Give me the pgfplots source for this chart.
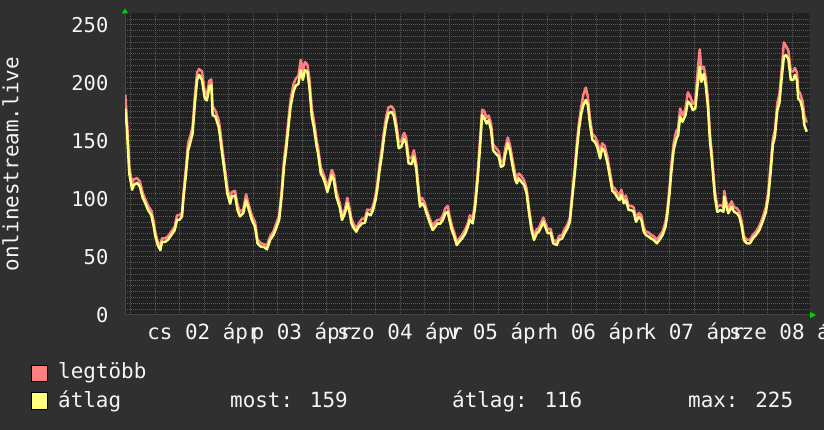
\documentclass[border=0pt]{standalone}
\usepackage{fontspec}
\setmainfont{DejaVu Sans Mono}
\usepackage{pgfplots}
\usepackage{pgfplotstable}
\pgfplotsset{compat=1.18}
\usetikzlibrary{arrows.meta}
\definecolor{bgc}{RGB}{48,48,48}
\definecolor{canvasc}{RGB}{33,33,33}
\definecolor{minorgrid}{RGB}{88,88,88}
\definecolor{majorgrid}{RGB}{140,66,66}
\definecolor{maxc}{RGB}{255,128,128}
\definecolor{avgc}{RGB}{255,255,128}
\definecolor{txtc}{RGB}{245,245,245}
\definecolor{arrowc}{RGB}{0,210,0}
\definecolor{axisc}{RGB}{70,70,70}
% h = hours since 2 April 00:00; avg = átlag; max = legtöbb
\pgfplotstableread{
h avg max
-7.3 178 190
-6.9 162 170
-6.6 142 150
-6.3 122 128
-5.6 108 113
-5.2 112 117
-4.4 114 118
-3.7 110.6 115
-3.0 101 105
-2.4 96.5 100
-1.7 90.5 94
-0.9 86 90
-0.3 76 80
0.1 67.5 71
0.7 60 63
1.3 56 60
1.7 63 66
2.5 63 66
3.2 65 68
4.0 69 72
4.8 73 76
5.4 82 86
6.0 82 86
6.6 85 88
7.0 102 106
7.6 122 128
8.1 142 148
8.6 148 154
9.2 156.6 162
9.7 179.6 186
10.3 202.6 209
10.8 207 212
11.5 202.6 210
12.2 186.8 192
12.7 185 190
13.3 196.8 202
13.8 198 203
14.1 172.4 180
14.8 171 176
15.6 162 168
15.9 155 161
16.4 140 146
17.1 122 127
17.7 105 110
18.4 96 100
18.8 102 106
19.6 103 107
20.2 90.5 95
20.8 85 89
21.6 87.7 91
22.3 99 104
22.8 93 97
23.7 82 86
24.5 76 80
25.1 61.8 65
25.9 59 62
26.7 58.6 61
27.4 56.6 60
28.2 64.7 68
29.0 69 72
29.8 76 80
30.4 82 86
31.0 102 107
31.6 128 134
32.1 142 148
32.6 159.5 166
33.2 179.6 186
33.9 192.5 199
34.5 198 204
35.1 199 206
35.7 211 220
36.2 202.6 210
36.7 211 218
37.3 210 216
37.8 196.8 204
38.4 171 178
38.9 162 168
39.6 145 150
39.9 140 145
40.6 122 127
41.1 119 123
41.7 113 117
42.2 106 110
42.8 113.5 118
43.3 120.7 125
43.8 116 121
44.4 102 107
45.2 93.4 97
45.8 82 86
46.5 87.7 91
47.1 96.3 101
47.7 87.7 91
48.1 79 83
48.7 74.7 78
49.3 71.8 75
49.9 76 79
50.7 79 83
51.4 79.5 83
52.0 87.7 91
52.8 86 90
53.4 90.5 94
54.0 99 103
54.4 107.8 112
55.0 125 130
55.6 139 145
56.1 153.7 159
56.6 165 171
57.2 174 179
57.9 175.3 180
58.5 171.6 177
59.1 159.5 165
59.7 143.7 149
60.3 145 150
61.0 152 157
61.5 148 153
62.1 130.8 136
62.8 130 135
63.4 136.5 142
64.0 125 130
64.3 113.5 118
64.9 93.4 98
65.4 96.3 101
66.0 93.4 97
66.5 87.7 91
67.2 80.4 84
68.0 73.3 77
68.6 76 80
69.2 79 82
69.8 78.6 82
70.5 82 86
71.1 87.7 92
71.7 89 94
72.1 82 86
72.7 73.3 77
73.3 67.5 71
73.9 60.3 63
74.5 63.2 66
75.2 66 69
76.0 70.4 74
76.6 76 79
77.1 82 86
77.8 79 83
78.4 93.4 98
79.0 116.4 122
79.6 145 152
80.1 172.4 177
80.6 170 176
81.2 165 170
81.7 168 172
82.3 159.5 165
82.8 142 147
83.5 139 144
84.2 136.5 141
84.7 127.8 132
85.3 128.7 133
85.8 139 144
86.4 148 153
86.9 142 147
87.6 127.8 133
88.2 117 122
88.6 113.5 118
89.1 117.8 122
89.7 115 120
90.4 112 116
91.0 105 109
91.6 87.7 92
92.2 73.3 77
92.8 64.7 68
93.5 70.4 74
94.0 72 75
94.6 76 80
95.1 80.4 84
95.7 74.7 78
96.2 70.4 74
96.9 71 74
97.5 61.8 65
98.4 60.3 63
98.9 64.7 68
99.7 66 69
100.3 70.4 74
101.0 74.7 78
101.6 80.4 84
102.2 102 106
102.8 122 127
103.3 142 148
103.8 159.5 165
104.4 174 180
104.9 181 190
105.5 185.3 196
106.0 181 188
106.5 165 170
107.1 151 156
107.7 149.4 154
108.3 145 150
109.0 135 140
109.5 143.7 148
110.1 141 146
110.8 130.8 136
111.4 119 124
112.0 107 111
112.6 105 109
113.1 102 106
113.7 99 103
114.2 103.4 108
114.8 96.3 100
115.3 99 103
116.0 90.5 94
116.6 90.5 94
117.2 89 93
117.8 80.4 84
118.5 84.8 88
119.1 82 86
119.7 71.8 75
120.2 69 72
120.9 67.5 71
121.5 66 69
122.1 64.7 68
122.9 61.8 65
123.7 65.6 69
124.3 69 72
125.0 76 80
125.4 84.8 89
126.0 105 110
126.4 122 128
127.0 142 148
127.6 151 158
128.1 155 161
128.6 171 178
129.2 166.6 172
129.9 172.4 178
130.5 184 192
131.1 182 188
131.7 176.7 182
132.3 178 184
133.0 202.6 215
133.4 214 229
133.8 201 212
134.4 208 214
134.9 196.8 204
135.4 179.6 186
135.9 150 156
136.3 136.5 142
136.7 119 124
137.1 102 107
137.7 89 93
138.5 90.5 95
139.2 89 93
139.4 102 107
139.8 94.8 99
140.4 87.7 92
141.2 93.4 98
141.8 89 93
142.5 87.7 92
143.1 84.8 89
143.7 76 80
144.2 64.7 68
144.9 61.8 65
145.7 61.8 65
146.4 66 69
147.2 69 72
148.0 73.3 77
148.8 80.4 84
149.6 89 93
150.2 102 107
150.8 125 131
151.3 146.6 152
151.8 153.7 159
152.4 176.7 183
152.9 182.5 190
153.5 205.5 213
154.0 222.7 235
154.5 224 232
155.1 221 228
155.7 202.6 210
156.3 202.6 210
156.7 207 213
157.2 202.6 209
157.5 186.8 194
158.1 184 190
158.6 176.7 184
159.0 163.8 172
159.6 158 166
}\datatable
\begin{document}
\begin{tikzpicture}
\fill[bgc] (0,0) rectangle (824bp,430bp);
\path[use as bounding box] (0,0) rectangle (824bp,430bp);
\begin{axis}[
  at={(125bp,115bp)}, anchor=south west,
  scale only axis, width=685bp, height=301.6bp,
  xmin=-7.35, xmax=160.4, ymin=0, ymax=260,
  axis background/.style={fill=canvasc},
  axis x line=bottom, axis y line=left,
  x axis line style={draw=axisc, line width=1bp, -{Triangle[color=arrowc,length=6bp,width=6bp]}, shorten >=-6bp},
  y axis line style={draw=axisc, line width=1bp, -{Triangle[color=arrowc,length=5bp,width=6bp]}, shorten >=-5bp},
  major tick length=0pt, minor tick length=0pt,
  xtick={0,24,48,72,96,120,144},
  xticklabels={},
  minor xtick={-6,6,12,18,30,36,42,54,60,66,78,84,90,102,108,114,126,132,138,150,156},
  extra x ticks={12,36,60,84,108,132,156},
  extra x tick labels={cs 02 ápr,p 03 ápr,szo 04 ápr,v 05 ápr,h 06 ápr,k 07 ápr,sze 08 ápr},
  extra x tick style={grid=none, major tick length=0pt},
  ytick={0,50,100,150,200,250},
  minor ytick={5,10,15,20,25,30,35,40,45,55,60,65,70,75,80,85,90,95,105,110,115,120,125,130,135,140,145,155,160,165,170,175,180,185,190,195,205,210,215,220,225,230,235,240,245,255},
  grid=both,
  minor grid style={minorgrid, dash pattern=on 1bp off 1bp, line width=1bp},
  major grid style={majorgrid, dash pattern=on 1bp off 1bp, line width=1bp},
  /pgf/number format/assume math mode=true,
  tick label style={text=txtc},
  xticklabel style={font=\fontsize{21}{22}\selectfont, anchor=base, inner sep=0pt, yshift=-24.5bp},
  yticklabel style={font=\fontsize{20.5}{21}\selectfont, anchor=east, inner sep=0pt, xshift=-16.5bp},
  ylabel={onlinestream.live},
  ylabel style={font=\fontsize{21}{22}\selectfont, text=txtc, at={(axis description cs:-0.1558,0.5)}, anchor=base, inner sep=0pt},
]
\addplot[maxc, line width=2.5bp, line join=round] table[x=h, y=max] {\datatable};
\addplot[avgc, line width=2.5bp, line join=round] table[x=h, y=avg] {\datatable};
\end{axis}
\begin{scope}[every node/.style={font=\fontsize{21}{22}\selectfont, text=txtc, inner sep=0pt, anchor=base west}]
\draw[fill=maxc, draw=black, line width=1bp] (31bp,48bp) rectangle (47bp,64bp);
\draw[fill=avgc, draw=black, line width=1bp] (31bp,20bp) rectangle (47bp,37bp);
\node at (58bp,51bp) {legtöbb};
\node at (58bp,23bp) {átlag};
\node at (230bp,23bp) {most: 159};
\node at (452bp,23bp) {átlag: 116};
\node at (688bp,23bp) {max: 225};
\end{scope}
\end{tikzpicture}
\end{document}
